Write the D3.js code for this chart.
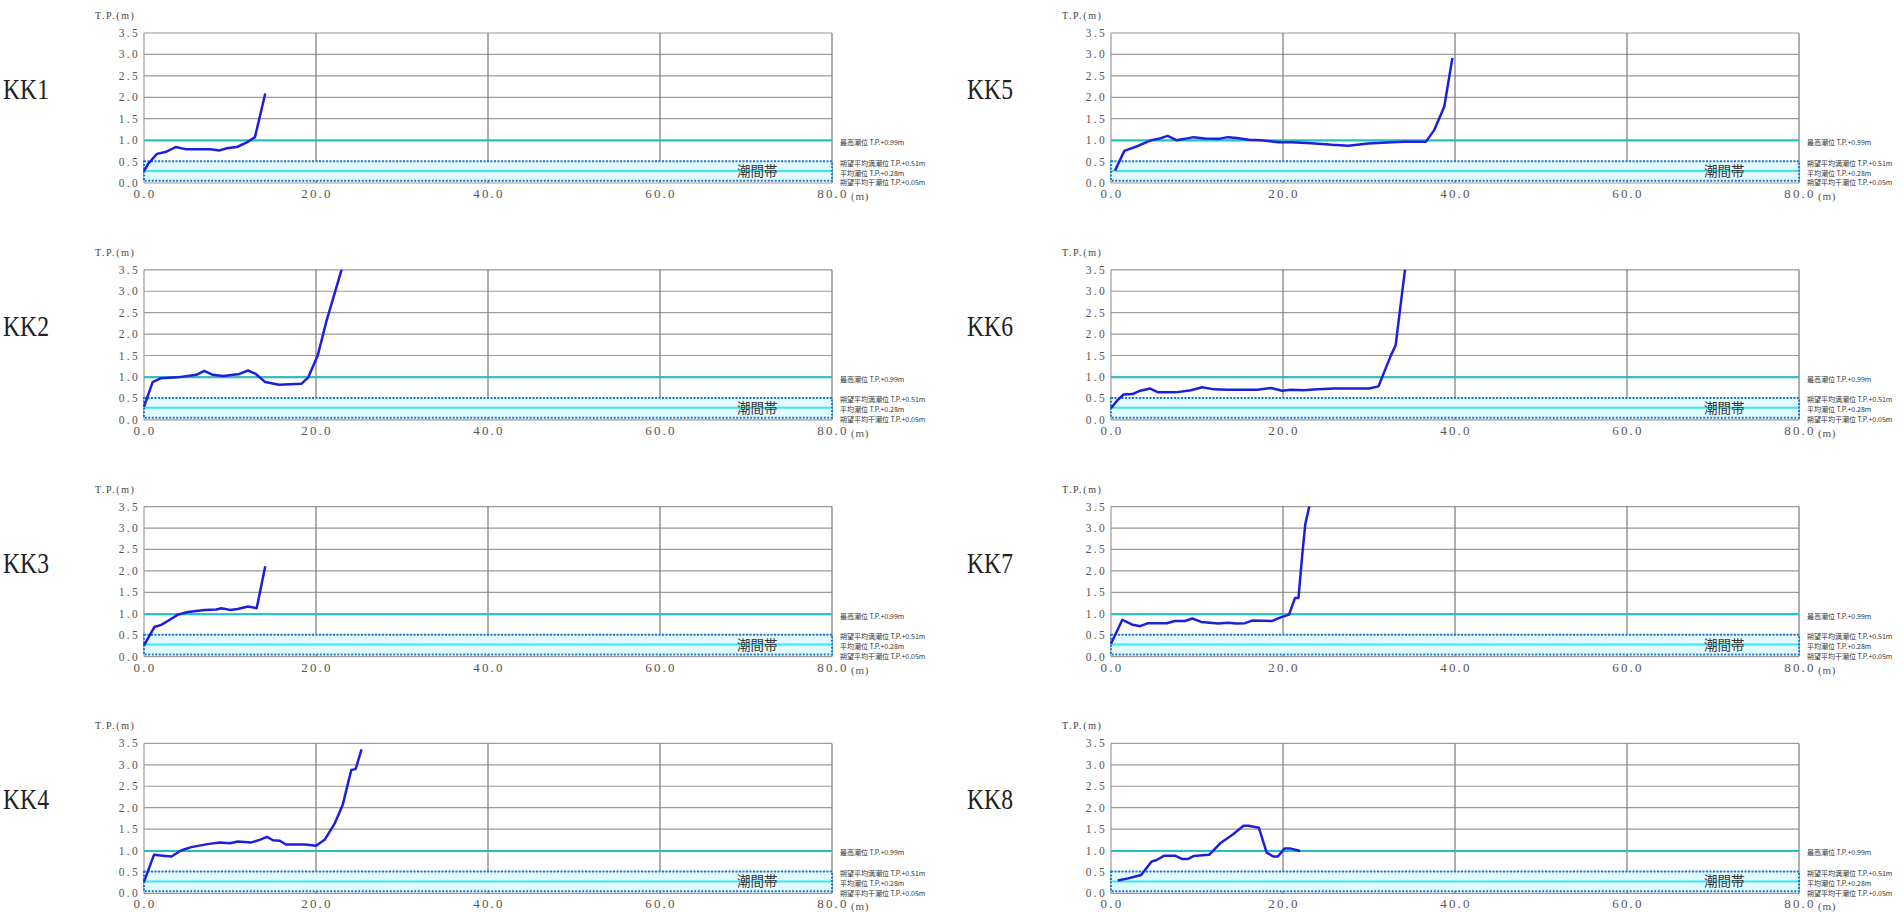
<!DOCTYPE html>
<html>
<head>
<meta charset="utf-8">
<script src="https://cdn.jsdelivr.net/npm/d3@7"></script>
<style>
  html, body { margin: 0; padding: 0; background: #ffffff; }
  svg { display: block; }
</style>
</head>
<body>
<svg id="chart" width="1903" height="914"></svg>
<script>
// ---------------- DATA ----------------
const profileNames = ["KK1", "KK2", "KK3", "KK4", "KK5", "KK6", "KK7", "KK8"];

const kk1Dist = [0, 0.5, 1.5, 2.6, 3.7, 4.8, 6.0, 7.7, 8.8, 9.6, 10.8, 11.9, 12.9, 14.1];
const kk1Elev = [0.28, 0.45, 0.68, 0.73, 0.84, 0.79, 0.79, 0.79, 0.76, 0.81, 0.84, 0.94, 1.07, 2.09];

const kk2Dist = [0, 1.0, 2.0, 3.9, 6.1, 7.0, 8.0, 9.2, 11.1, 12.1, 13.0, 14.1, 15.7, 18.3, 19.1, 20.2, 21.2, 23.0];
const kk2Elev = [0.30, 0.88, 0.97, 0.99, 1.05, 1.14, 1.05, 1.02, 1.07, 1.15, 1.07, 0.88, 0.82, 0.84, 0.99, 1.50, 2.29, 3.52];

const kk3Dist = [0, 1.2, 2.0, 3.0, 3.95, 5.1, 7.05, 8.4, 9.0, 10.0, 10.9, 12.1, 13.1, 14.1];
const kk3Elev = [0.26, 0.69, 0.74, 0.86, 0.98, 1.04, 1.09, 1.10, 1.13, 1.09, 1.11, 1.17, 1.13, 2.11];

const kk4Dist = [0, 1.16, 2.2, 3.2, 4.3, 5.5, 7.4, 8.8, 10.0, 10.9, 12.5, 13.45, 14.3, 15.0, 15.8, 16.5, 18.7, 20.0, 21.0, 22.2, 23.1, 24.1, 24.6, 25.3];
const kk4Elev = [0.27, 0.90, 0.88, 0.86, 1.00, 1.08, 1.15, 1.19, 1.17, 1.21, 1.19, 1.25, 1.32, 1.24, 1.23, 1.14, 1.14, 1.11, 1.25, 1.64, 2.06, 2.88, 2.90, 3.36];

const kk5Dist = [0.47, 1.55, 3.2, 4.7, 5.7, 6.6, 7.6, 8.6, 9.6, 10.9, 12.5, 13.6, 14.6, 16.0, 17.5, 19.5, 21.0, 23.3, 25.7, 27.6, 29.9, 32.6, 34.2, 36.6, 37.6, 38.75, 39.7];
const kk5Elev = [0.29, 0.75, 0.87, 1.00, 1.04, 1.10, 1.00, 1.03, 1.07, 1.04, 1.03, 1.07, 1.05, 1.01, 1.00, 0.95, 0.95, 0.93, 0.89, 0.87, 0.92, 0.95, 0.96, 0.96, 1.24, 1.78, 2.92];

const kk6Dist = [0, 0.77, 1.47, 2.5, 3.4, 4.56, 5.5, 7.5, 9.3, 10.6, 12.0, 13.5, 17.0, 18.6, 19.9, 20.9, 22.4, 24.0, 25.9, 30.0, 31.1, 32.5, 33.1, 33.6, 34.2];
const kk6Elev = [0.27, 0.46, 0.59, 0.60, 0.68, 0.73, 0.64, 0.64, 0.69, 0.76, 0.71, 0.70, 0.70, 0.74, 0.68, 0.70, 0.69, 0.71, 0.73, 0.73, 0.78, 1.48, 1.74, 2.56, 3.52];

const kk7Dist = [0, 1.32, 2.4, 3.4, 4.3, 6.5, 7.4, 8.6, 9.45, 10.5, 12.5, 13.6, 14.6, 15.6, 16.4, 18.7, 19.65, 20.7, 21.4, 21.8, 22.25, 22.6, 23.1];
const kk7Elev = [0.30, 0.86, 0.75, 0.71, 0.78, 0.78, 0.83, 0.83, 0.89, 0.81, 0.77, 0.79, 0.77, 0.78, 0.84, 0.83, 0.91, 0.98, 1.37, 1.37, 2.40, 3.10, 3.54];

const kk8Dist = [0.78, 2.0, 3.5, 4.7, 5.3, 6.2, 7.44, 8.3, 8.9, 9.6, 11.4, 12.7, 14.2, 15.4, 16.0, 17.2, 18.1, 18.9, 19.4, 20.2, 20.8, 22.0];
const kk8Elev = [0.30, 0.35, 0.43, 0.74, 0.78, 0.88, 0.88, 0.80, 0.80, 0.87, 0.90, 1.17, 1.38, 1.58, 1.58, 1.53, 0.95, 0.86, 0.86, 1.05, 1.05, 0.99];

const profileDists = [kk1Dist, kk2Dist, kk3Dist, kk4Dist, kk5Dist, kk6Dist, kk7Dist, kk8Dist];
const profileElevs = [kk1Elev, kk2Elev, kk3Elev, kk4Elev, kk5Elev, kk6Elev, kk7Elev, kk8Elev];

const xTickValues = [0, 20, 40, 60, 80];
const yTickValues = [0, 0.5, 1.0, 1.5, 2.0, 2.5, 3.0, 3.5];

const hhwl = 0.99;   // 最高潮位
const hwl = 0.51;    // 朔望平均満潮位
const msl = 0.28;    // 平均潮位
const lwl = 0.05;    // 朔望平均干潮位
const tideLabels = [
  "最高潮位 T.P.+0.99m",
  "朔望平均満潮位 T.P.+0.51m",
  "平均潮位 T.P.+0.28m",
  "朔望平均干潮位 T.P.+0.05m"
];
const tideLabelLevels = [hhwl, hwl, msl, lwl];
const zoneLabel = "潮間帯";
const zoneLabelX = 71.3;
const yAxisTitle = "T.P.(m)";
const xUnit = "(m)";

// ---------------- LAYOUT ----------------
const svg = d3.select("#chart");
const colLeft = [144, 1111];
const plotW = 688;
const plotH = 150;
const row0Base = 183;
const rowStep = 236.8;
const titleX = [3, 967];

const serif = "'Liberation Serif', 'DejaVu Serif', serif";
const cjk = "'Noto Sans CJK JP', 'Noto Sans', sans-serif";

const defs = svg.append("defs");

profileNames.forEach((name, i) => {
  const col = i < 4 ? 0 : 1;
  const row = i % 4;
  const left = colLeft[col];
  const base = row0Base + row * rowStep;
  const top = base - plotH;

  const x = d3.scaleLinear().domain([0, 80]).range([left, left + plotW]);
  const y = d3.scaleLinear().domain([0, 3.5]).range([base, top]);

  const g = svg.append("g");

  // title
  g.append("text")
    .attr("x", titleX[col]).attr("y", base - 84)
    .attr("font-family", serif).attr("font-size", 30)
    .attr("fill", "#222")
    .attr("textLength", 46).attr("lengthAdjust", "spacingAndGlyphs")
    .text(name);

  // y axis title
  g.append("text")
    .attr("x", left - 49).attr("y", top - 14)
    .attr("font-family", serif).attr("font-size", 10)
    .attr("fill", "#444").attr("letter-spacing", 1.6)
    .text(yAxisTitle);

  // horizontal grid
  g.selectAll("line.hg").data(yTickValues).enter().append("line")
    .attr("x1", x(0)).attr("x2", x(80))
    .attr("y1", d => y(d)).attr("y2", d => y(d))
    .attr("stroke", "#9a9a9a").attr("stroke-width", 1.2);

  // vertical grid
  g.selectAll("line.vg").data(xTickValues).enter().append("line")
    .attr("x1", d => x(d)).attr("x2", d => x(d))
    .attr("y1", y(3.5)).attr("y2", y(0))
    .attr("stroke", d => d === 0 ? "#9a9a9a" : "#7a7a7a").attr("stroke-width", 1.2);

  // intertidal zone band
  g.append("rect")
    .attr("x", x(0)).attr("y", y(hwl))
    .attr("width", x(80) - x(0)).attr("height", y(lwl) - y(hwl))
    .attr("fill", "#e2fbff");

  // mean sea level
  g.append("line")
    .attr("x1", x(0)).attr("x2", x(80))
    .attr("y1", y(msl)).attr("y2", y(msl))
    .attr("stroke", "#3fe6f2").attr("stroke-width", 2);

  // band dotted border
  g.append("rect")
    .attr("x", x(0)).attr("y", y(hwl))
    .attr("width", x(80) - x(0)).attr("height", y(lwl) - y(hwl))
    .attr("fill", "none")
    .attr("stroke", "#1d78d0").attr("stroke-width", 2)
    .attr("stroke-dasharray", "2,1.5");

  // highest tide level
  g.append("line")
    .attr("x1", x(0)).attr("x2", x(80))
    .attr("y1", y(hhwl)).attr("y2", y(hhwl))
    .attr("stroke", "#1fc3c6").attr("stroke-width", 2);

  // zone label
  g.append("text")
    .attr("x", x(zoneLabelX)).attr("y", y((hwl + lwl) / 2) + 5)
    .attr("text-anchor", "middle")
    .attr("font-family", cjk).attr("font-size", 13.5)
    .attr("fill", "#333")
    .text(zoneLabel);

  // tide labels on right
  g.selectAll("text.tl").data(tideLabels).enter().append("text")
    .attr("x", x(80) + 8)
    .attr("y", (d, k) => y(tideLabelLevels[k]) + 4.5)
    .attr("font-family", cjk).attr("font-size", 7)
    .attr("fill", "#333")
    .text(d => d);

  // y tick labels
  g.selectAll("text.yt").data(yTickValues).enter().append("text")
    .attr("x", x(0) - 4).attr("y", d => y(d) + 4)
    .attr("text-anchor", "end")
    .attr("font-family", serif).attr("font-size", 11.5)
    .attr("letter-spacing", 2.3)
    .attr("fill", "#555")
    .text(d => d3.format(".1f")(d));

  // x tick labels
  g.selectAll("text.xt").data(xTickValues).enter().append("text")
    .attr("x", d => x(d) + 1).attr("y", base + 15)
    .attr("text-anchor", "middle")
    .attr("font-family", serif).attr("font-size", 13)
    .attr("letter-spacing", 2.2)
    .attr("fill", "#555")
    .text(d => d3.format(".1f")(d));

  g.append("text")
    .attr("x", x(80) + 19).attr("y", base + 17)
    .attr("font-family", serif).attr("font-size", 11)
    .attr("letter-spacing", 0.8)
    .attr("fill", "#555")
    .text(xUnit);

  // clip + profile line
  const clipId = "clip" + i;
  defs.append("clipPath").attr("id", clipId)
    .append("rect")
    .attr("x", x(0) - 2).attr("y", y(3.5))
    .attr("width", plotW + 4).attr("height", plotH + 2);

  const pts = profileDists[i].map((d, k) => [d, profileElevs[i][k]]);
  const line = d3.line().x(d => x(d[0])).y(d => y(d[1]));

  g.append("path")
    .attr("clip-path", "url(#" + clipId + ")")
    .attr("d", line(pts))
    .attr("fill", "none")
    .attr("stroke", "#1d1ee0").attr("stroke-width", 2.5)
    .attr("stroke-linejoin", "round");
});
</script>
</body>
</html>
